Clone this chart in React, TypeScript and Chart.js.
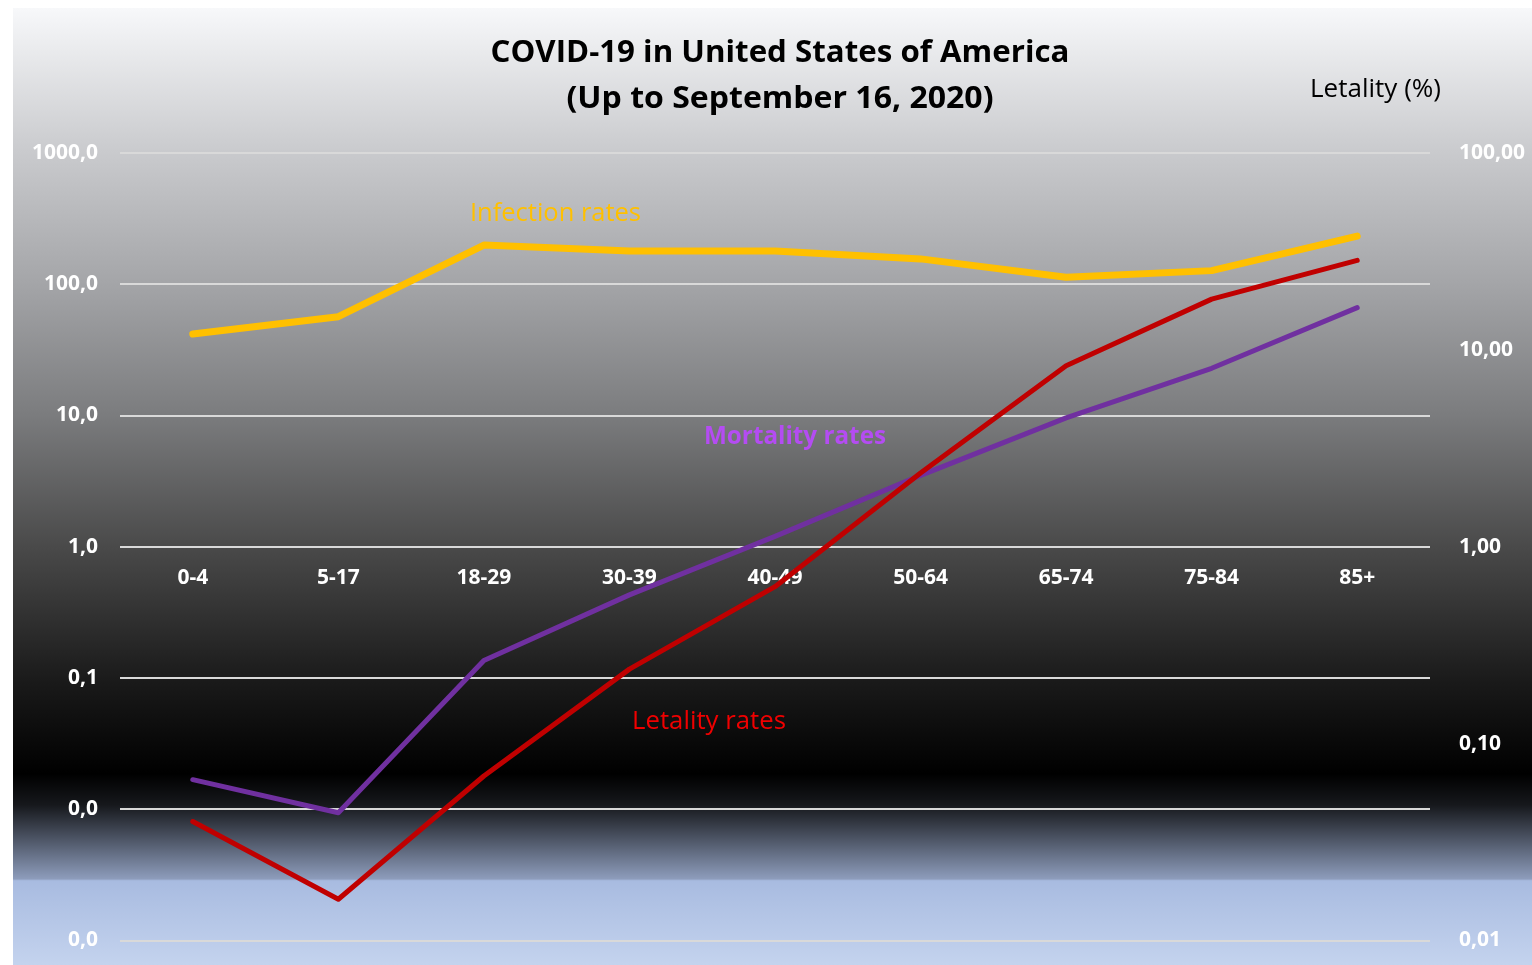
import React, { useEffect, useRef } from "react";
import { Chart, registerables } from "chart.js";

Chart.register(...registerables);

const categories = ["0-4", "5-17", "18-29", "30-39", "40-49", "50-64", "65-74", "75-84", "85+"];
const infectionRates = [41.8, 56.6, 199, 179, 179, 156, 113, 127, 233];
const mortalityRates = [0.0168, 0.0094, 0.136, 0.43, 1.2, 3.5, 9.6, 22.9, 66.3];
const letalityRates = [0.0402, 0.0162, 0.0685, 0.239, 0.627, 2.37, 8.31, 18.1, 28.5];

const leftTicks = [1000, 100, 10, 1, 0.1, 0.01, 0.001];
const leftTickLabels = ["1000,0", "100,0", "10,0", "1,0", "0,1", "0,0", "0,0"];
const rightTicks = [100, 10, 1, 0.1, 0.01];
const rightTickLabels = ["100,00", "10,00", "1,00", "0,10", "0,01"];

const titleLines = ["COVID-19 in United States of America", "(Up to September 16, 2020)"];
const seriesNames = ["Infection rates", "Mortality rates", "Letality rates"];
const rightAxisTitle = "Letality (%)";

const FONT = "'Open Sans', Lato, sans-serif";

const backgroundPlugin = {
  id: "bgGradient",
  beforeDraw(chart: any) {
    const { ctx, width, height } = chart;
    const g = ctx.createLinearGradient(0, 0, 0, height);
    g.addColorStop(0, "#F7F8FA");
    g.addColorStop(0.1515, "#C9CACD");
    g.addColorStop(0.288, "#A4A5A8");
    g.addColorStop(0.425, "#7B7C7E");
    g.addColorStop(0.562, "#4A4A4A");
    g.addColorStop(0.7, "#1B1B1B");
    g.addColorStop(0.8, "#000000");
    g.addColorStop(0.8328, "#16181C");
    g.addColorStop(0.91, "#8D9CBB");
    g.addColorStop(0.912, "#A8BBE0");
    g.addColorStop(1, "#C4D3EE");
    ctx.save();
    ctx.fillStyle = g;
    ctx.fillRect(0, 0, width, height);
    ctx.restore();
  },
};

function fitText(ctx: any, text: string, cx: number, cy: number, targetWidth: number) {
  const w = ctx.measureText(text).width;
  const s = targetWidth / w;
  ctx.save();
  ctx.translate(cx, cy);
  ctx.scale(s, 1);
  ctx.fillText(text, 0, 0);
  ctx.restore();
}

const textPlugin = {
  id: "texts",
  afterDraw(chart: any) {
    const { ctx } = chart;
    ctx.save();
    ctx.textAlign = "center";
    ctx.textBaseline = "middle";
    ctx.fillStyle = "#000000";
    ctx.font = `bold 31px ${FONT}`;
    fitText(ctx, titleLines[0], 767, 45, 579);
    fitText(ctx, titleLines[1], 767, 91, 427);
    ctx.font = `26px ${FONT}`;
    fitText(ctx, rightAxisTitle, 1362.5, 82, 131);
    ctx.font = `25px ${FONT}`;
    ctx.fillStyle = "#FFC000";
    fitText(ctx, seriesNames[0], 542.5, 206, 171);
    ctx.font = `bold 25px ${FONT}`;
    ctx.fillStyle = "#B44CF2";
    fitText(ctx, seriesNames[1], 782, 429, 182);
    ctx.font = `25px ${FONT}`;
    ctx.fillStyle = "#F00000";
    fitText(ctx, seriesNames[2], 696, 714, 154);
    ctx.restore();
  },
};

export default function App() {
  const ref = useRef<HTMLCanvasElement | null>(null);

  useEffect(() => {
    if (!ref.current) return;
    const chart = new Chart(ref.current, {
      type: "line",
      data: {
        labels: categories,
        datasets: [
          {
            label: seriesNames[0],
            data: infectionRates,
            yAxisID: "y",
            borderColor: "#FFC000",
            borderWidth: 7,
            pointRadius: 0,
            tension: 0,
            borderCapStyle: "round",
            borderJoinStyle: "round",
            order: 3,
          },
          {
            label: seriesNames[1],
            data: mortalityRates,
            yAxisID: "y",
            borderColor: "#7030A0",
            borderWidth: 5,
            pointRadius: 0,
            tension: 0,
            borderCapStyle: "round",
            borderJoinStyle: "round",
            order: 2,
          },
          {
            label: seriesNames[2],
            data: letalityRates,
            yAxisID: "y1",
            borderColor: "#C00000",
            borderWidth: 5,
            pointRadius: 0,
            tension: 0,
            borderCapStyle: "round",
            borderJoinStyle: "round",
            order: 1,
          },
        ],
      },
      options: {
        animation: false,
        responsive: false,
        maintainAspectRatio: false,
        layout: { padding: { top: 145, bottom: 24.5, left: 0, right: 0 } },
        plugins: {
          legend: { display: false },
          tooltip: { enabled: false },
          title: { display: false },
        },
        scales: {
          x: {
            type: "category",
            position: { y: 1 } as any,
            offset: true,
            grid: { display: false, drawTicks: false },
            border: { display: false },
            ticks: {
              color: "#FFFFFF",
              font: { family: FONT, weight: "bold", size: 21 },
              padding: 19,
              maxRotation: 0,
              autoSkip: false,
            },
          },
          y: {
            type: "logarithmic",
            position: "left",
            min: 0.001,
            max: 1000,
            afterBuildTicks: (scale: any) => {
              scale.ticks = leftTicks.map((v) => ({ value: v }));
            },
            afterFit: (scale: any) => {
              scale.width = 107;
              scale.paddingTop = 0;
              scale.paddingBottom = 0;
            },
            grid: { color: "#D9D9D9", lineWidth: 2, drawTicks: false },
            border: { display: false },
            ticks: {
              color: "#FFFFFF",
              font: { family: FONT, weight: "bold", size: 21 },
              padding: 22,
              callback: (v: any) => {
                const i = leftTicks.indexOf(Number(v));
                return i >= 0 ? leftTickLabels[i] : "";
              },
            },
          },
          y1: {
            type: "logarithmic",
            position: "right",
            min: 0.01,
            max: 100,
            afterBuildTicks: (scale: any) => {
              scale.ticks = rightTicks.map((v) => ({ value: v }));
            },
            afterFit: (scale: any) => {
              scale.width = 102;
              scale.paddingTop = 0;
              scale.paddingBottom = 0;
            },
            grid: { display: false, drawTicks: false },
            border: { display: false },
            ticks: {
              color: "#FFFFFF",
              font: { family: FONT, weight: "bold", size: 21 },
              padding: 29,
              callback: (v: any) => {
                const i = rightTicks.indexOf(Number(v));
                return i >= 0 ? rightTickLabels[i] : "";
              },
            },
          },
        },
      } as any,
      plugins: [backgroundPlugin, textPlugin],
    });
    return () => chart.destroy();
  }, []);

  return (
    <div style={{ position: "fixed", left: 13, top: 8, width: 1519, height: 957 }}>
      <canvas ref={ref} width={1519} height={957} style={{ width: 1519, height: 957, display: "block" }} />
    </div>
  );
}
